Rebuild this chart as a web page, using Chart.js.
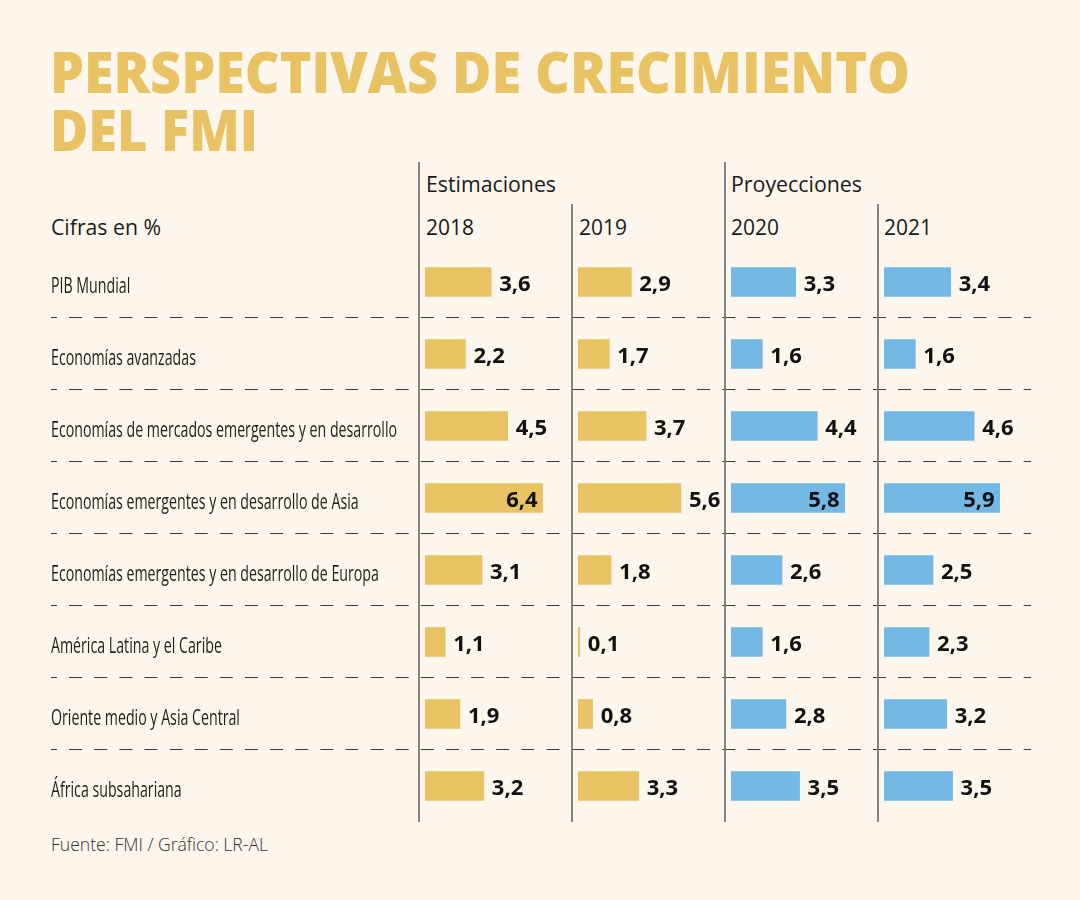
<!DOCTYPE html>
<html><head><meta charset="utf-8">
<script src="https://cdn.jsdelivr.net/npm/chart.js@4.4.1/dist/chart.umd.min.js"></script>
<style>
html,body{margin:0;padding:0;background:#fdf6ec;}
#wrap{position:relative;width:1080px;height:900px;background:#fdf6ec;overflow:hidden;}
canvas{position:absolute;}
svg{position:absolute;left:0;top:0;}
</style></head><body>
<div id="wrap">
<svg id="deco" width="1080" height="900" xmlns="http://www.w3.org/2000/svg"></svg>
<canvas id="c0"></canvas>
<canvas id="c1"></canvas>
<canvas id="c2"></canvas>
<canvas id="c3"></canvas>
</div>
<script>
// ---- data ----
const categories = [
  'PIB Mundial',
  'Economías avanzadas',
  'Economías de mercados emergentes y en desarrollo',
  'Economías emergentes y en desarrollo de Asia',
  'Economías emergentes y en desarrollo de Europa',
  'América Latina y el Caribe',
  'Oriente medio y Asia Central',
  'África subsahariana'
];
const years = ['2018', '2019', '2020', '2021'];
const groupLabels = ['Estimaciones', 'Proyecciones'];
const v2018 = [3.6, 2.2, 4.5, 6.4, 3.1, 1.1, 1.9, 3.2];
const v2019 = [2.9, 1.7, 3.7, 5.6, 1.8, 0.1, 0.8, 3.3];
const v2020 = [3.3, 1.6, 4.4, 5.8, 2.6, 1.6, 2.8, 3.5];
const v2021 = [3.4, 1.6, 4.6, 5.9, 2.5, 2.3, 3.2, 3.5];
const titleLines = ['PERSPECTIVAS DE CRECIMIENTO', 'DEL FMI'];
const unitLabel = 'Cifras en %';
const sourceText = 'Fuente: FMI / Gráfico: LR-AL';

// ---- style / layout ----
const GOLD = '#e8c263', BLUE = '#74b8e6';
const TOP = 246, ROWH = 72, H = ROWH * categories.length;
const LABEL_W = 374;           // room for the category labels in the first panel
const LONGEST_LABEL_PX = 346;  // condensed width of the longest category label
const panels = [
  {id:'c0', left:51,  width:521, labels:true,  max:8,   color:GOLD, values:v2018},
  {id:'c1', left:578, width:147, labels:false, max:8,   color:GOLD, values:v2019},
  {id:'c2', left:731, width:147, labels:false, max:7.5, color:BLUE, values:v2020},
  {id:'c3', left:884, width:147, labels:false, max:7.5, color:BLUE, values:v2021}
];

const fmt = v => v.toFixed(1).replace('.', ',');

const valueLabels = {
  id: 'valueLabels',
  afterDatasetsDraw(chart) {
    const ctx = chart.ctx;
    const meta = chart.getDatasetMeta(0);
    const data = chart.data.datasets[0].data;
    ctx.save();
    ctx.font = '700 22px "Open Sans", sans-serif';
    ctx.fillStyle = '#111';
    ctx.textBaseline = 'alphabetic';
    meta.data.forEach((bar, i) => {
      const txt = fmt(data[i]);
      const w = ctx.measureText(txt).width;
      if (bar.x + 8 + w > chart.chartArea.right) {
        ctx.textAlign = 'right';
        ctx.fillText(txt, bar.x - 5, bar.y + 9);
      } else {
        ctx.textAlign = 'left';
        ctx.fillText(txt, bar.x + 8, bar.y + 9);
      }
    });
    ctx.restore();
  }
};

// category labels drawn at the category scale's row positions, condensed horizontally
const categoryLabels = {
  id: 'categoryLabels',
  afterDraw(chart, args, opts) {
    if (!opts.show) return;
    const ctx = chart.ctx;
    const ys = chart.scales.y;
    ctx.save();
    ctx.font = '400 21px "Open Sans", sans-serif';
    ctx.fillStyle = '#1e1e1e';
    ctx.textAlign = 'left';
    ctx.textBaseline = 'alphabetic';
    const longest = categories.reduce((a, b) => ctx.measureText(b).width > ctx.measureText(a).width ? b : a);
    const k = LONGEST_LABEL_PX / ctx.measureText(longest).width;
    chart.data.labels.forEach((lab, i) => {
      const y = ys.getPixelForValue(i);
      ctx.save();
      ctx.translate(0, y + 10.5);
      ctx.scale(k, 1);
      ctx.fillText(lab, 0, 0);
      ctx.restore();
    });
    ctx.restore();
  }
};

panels.forEach(p => {
  const cv = document.getElementById(p.id);
  cv.width = p.width; cv.height = H;
  cv.style.left = p.left + 'px'; cv.style.top = TOP + 'px';
  cv.style.width = p.width + 'px'; cv.style.height = H + 'px';
  new Chart(cv, {
    type: 'bar',
    data: {
      labels: categories,
      datasets: [{
        data: p.values,
        backgroundColor: p.color,
        borderWidth: 0,
        barThickness: 29
      }]
    },
    options: {
      indexAxis: 'y',
      responsive: false,
      animation: false,
      devicePixelRatio: 1,
      layout: {padding: {left: p.labels ? LABEL_W : 0, right: 0, top: 0, bottom: 0}},
      plugins: {legend: {display: false}, tooltip: {enabled: false}, categoryLabels: {show: p.labels}},
      scales: {
        x: {display: false, min: 0, max: p.max},
        y: {display: false}
      }
    },
    plugins: [valueLabels, categoryLabels]
  });
});

// ---- decorations (SVG) ----
const svg = document.getElementById('deco');
const NS = 'http://www.w3.org/2000/svg';
function el(name, attrs, text) {
  const e = document.createElementNS(NS, name);
  for (const k in attrs) e.setAttribute(k, attrs[k]);
  if (text !== undefined) e.textContent = text;
  svg.appendChild(e);
  return e;
}
// title
el('text', {x:50, y:93, 'font-family':'"Open Sans", sans-serif', 'font-weight':800, 'font-size':57, fill:GOLD, textLength:860, lengthAdjust:'spacingAndGlyphs'}, titleLines[0]);
el('text', {x:50, y:151, 'font-family':'"Open Sans", sans-serif', 'font-weight':800, 'font-size':57, fill:GOLD, textLength:208, lengthAdjust:'spacingAndGlyphs'}, titleLines[1]);
// headers
const hdrFont = {'font-family':'"Open Sans", sans-serif', 'font-size':21, fill:'#1a1a1a'};
el('text', Object.assign({x:426, y:192, textLength:130, lengthAdjust:'spacingAndGlyphs'}, hdrFont), groupLabels[0]);
el('text', Object.assign({x:731, y:192, textLength:131, lengthAdjust:'spacingAndGlyphs'}, hdrFont), groupLabels[1]);
const yearX = [426, 579, 731, 884];
years.forEach((y, i) => el('text', Object.assign({x:yearX[i], y:235, textLength:48, lengthAdjust:'spacingAndGlyphs'}, hdrFont), y));
el('text', Object.assign({x:51, y:235, textLength:110, lengthAdjust:'spacingAndGlyphs'}, hdrFont), unitLabel);
// source
el('text', {x:51, y:851, 'font-family':'"Open Sans", sans-serif', 'font-weight':300, 'font-size':18, fill:'#333', textLength:217, lengthAdjust:'spacingAndGlyphs'}, sourceText);
// dashed separators
for (let i = 1; i < categories.length; i++) {
  const y = TOP + i * ROWH - 0.5;
  el('line', {x1:51, x2:1031, y1:y, y2:y, stroke:'#3a3a3a', 'stroke-width':1.2, 'stroke-dasharray':'13 12.12', 'stroke-dashoffset':7});
}
// vertical panel lines
[[419,162],[572,204],[725,162],[878,204]].forEach(([x, t]) => {
  el('line', {x1:x, x2:x, y1:t, y2:822, stroke:'#7a7672', 'stroke-width':1.8});
});
</script>
</body></html>
